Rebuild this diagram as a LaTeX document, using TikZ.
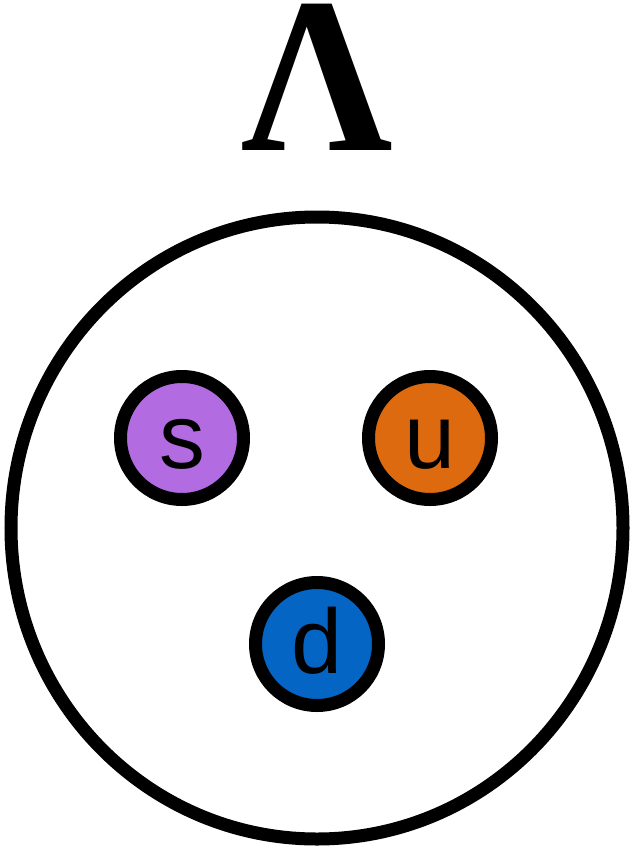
\documentclass[tikz,border=0pt]{standalone}
\usepackage{fontspec}
\setmainfont{Liberation Sans}
\newfontfamily\lamfont{Liberation Serif}
\definecolor{spurple}{HTML}{B36BE2}
\definecolor{uorange}{HTML}{DE6A10}
\definecolor{dblue}{HTML}{0565C4}
\begin{document}
\begin{tikzpicture}[x=1bp,y=-1bp,
  quark/.style={circle,draw=black,line width=13bp,minimum size=123bp,inner sep=0pt},
  qlabel/.style={anchor=base,inner sep=0pt,font=\fontsize{92}{92}\selectfont},
  hadron/.style={draw=black,line width=13bp}]
\useasboundingbox (0,0) rectangle (630,849);
\draw[hadron] (317,528) ellipse [x radius=306, y radius=311];
\node[quark,fill=spurple] (s) at (182,438) {};
\node[quark,fill=uorange] (u) at (430,438) {};
\node[quark,fill=dblue] (d) at (317,644) {};
\node[qlabel] (sl) at (182,468) {s};
\node[qlabel] (ul) at (430,468) {u};
\node[qlabel] (dl) at (317,673) {d};
\node[anchor=base,inner sep=0pt,font=\lamfont\bfseries\fontsize{212}{212}\selectfont] (lam) at (317,150) {\scalebox{1}[1.05]{Λ}};
\end{tikzpicture}
\end{document}
